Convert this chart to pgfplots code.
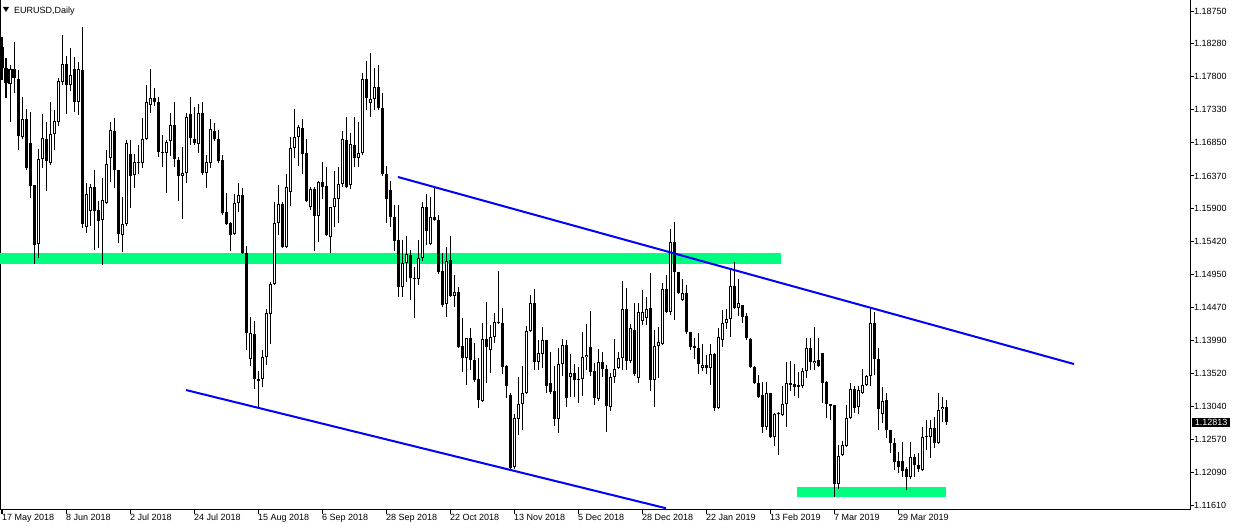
\documentclass[border=0pt]{standalone}
\usepackage{fontspec}
\setmainfont{Liberation Sans}
\usepackage{pgfplots}
\usepackage{pgfplotstable}
\pgfplotsset{compat=1.18}
\definecolor{sgreen}{RGB}{0,255,127}
\definecolor{tlblue}{RGB}{0,0,255}

\pgfplotstableread{
i o h l c
0 1.1823 1.1838 1.1776 1.1793
1 1.1793 1.1807 1.1750 1.1771
2 1.1770 1.1797 1.1715 1.1791
3 1.1791 1.1830 1.1757 1.1778
4 1.1777 1.1790 1.1674 1.1695
5 1.1693 1.1751 1.1690 1.1719
6 1.1719 1.1734 1.1646 1.1648
7 1.1685 1.1729 1.1605 1.1623
8 1.1624 1.1624 1.1510 1.1537
9 1.1539 1.1676 1.1519 1.1662
10 1.1662 1.1726 1.1649 1.1692
11 1.1690 1.1715 1.1615 1.1659
12 1.1656 1.1744 1.1653 1.1698
13 1.1698 1.1732 1.1674 1.1716
14 1.1715 1.1778 1.1709 1.1774
15 1.1773 1.1840 1.1768 1.1799
16 1.1799 1.1810 1.1726 1.1768
17 1.1768 1.1822 1.1760 1.1783
18 1.1791 1.1809 1.1729 1.1744
19 1.1744 1.1801 1.1725 1.1791
20 1.1790 1.1852 1.1562 1.1568
21 1.1563 1.1627 1.1555 1.1611
22 1.1586 1.1625 1.1565 1.1621
23 1.1621 1.1646 1.1530 1.1586
24 1.1588 1.1601 1.1533 1.1572
25 1.1573 1.1634 1.1509 1.1602
26 1.1598 1.1674 1.1596 1.1654
27 1.1663 1.1715 1.1628 1.1703
28 1.1702 1.1721 1.1620 1.1646
29 1.1646 1.1646 1.1540 1.1553
30 1.1552 1.1607 1.1527 1.1568
31 1.1568 1.1689 1.1565 1.1685
32 1.1669 1.1689 1.1591 1.1637
33 1.1638 1.1669 1.1620 1.1657
34 1.1657 1.1682 1.1640 1.1656
35 1.1656 1.1721 1.1649 1.1690
36 1.1690 1.1768 1.1689 1.1744
37 1.1739 1.1791 1.1728 1.1750
38 1.1750 1.1764 1.1738 1.1744
39 1.1744 1.1751 1.1664 1.1672
40 1.1672 1.1696 1.1650 1.1670
41 1.1670 1.1689 1.1612 1.1686
42 1.1687 1.1728 1.1666 1.1711
43 1.1711 1.1744 1.1650 1.1662
44 1.1660 1.1664 1.1601 1.1637
45 1.1637 1.1679 1.1575 1.1641
46 1.1641 1.1728 1.1627 1.1722
47 1.1726 1.1751 1.1682 1.1692
48 1.1690 1.1737 1.1682 1.1685
49 1.1683 1.1741 1.1670 1.1728
50 1.1728 1.1744 1.1638 1.1641
51 1.1641 1.1667 1.1620 1.1657
52 1.1656 1.1719 1.1649 1.1705
53 1.1702 1.1713 1.1687 1.1690
54 1.1690 1.1703 1.1656 1.1659
55 1.1660 1.1667 1.1581 1.1584
56 1.1585 1.1612 1.1566 1.1568
57 1.1569 1.1571 1.1529 1.1552
58 1.1553 1.1611 1.1552 1.1598
59 1.1598 1.1627 1.1585 1.1610
60 1.1610 1.1620 1.1524 1.1526
61 1.1526 1.1536 1.1386 1.1410
62 1.1373 1.1434 1.1363 1.1410
63 1.1409 1.1428 1.1330 1.1344
64 1.1344 1.1356 1.1302 1.1341
65 1.1344 1.1386 1.1333 1.1376
66 1.1376 1.1445 1.1364 1.1439
67 1.1438 1.1484 1.1395 1.1481
68 1.1481 1.1599 1.1480 1.1569
69 1.1569 1.1624 1.1552 1.1597
70 1.1597 1.1599 1.1533 1.1535
71 1.1535 1.1640 1.1533 1.1621
72 1.1614 1.1693 1.1594 1.1677
73 1.1677 1.1734 1.1663 1.1693
74 1.1693 1.1711 1.1651 1.1708
75 1.1706 1.1719 1.1640 1.1669
76 1.1670 1.1690 1.1599 1.1601
77 1.1592 1.1621 1.1588 1.1618
78 1.1618 1.1621 1.1529 1.1579
79 1.1579 1.1630 1.1542 1.1628
80 1.1628 1.1657 1.1604 1.1621
81 1.1623 1.1650 1.1550 1.1552
82 1.1549 1.1592 1.1526 1.1592
83 1.1592 1.1644 1.1563 1.1605
84 1.1604 1.1650 1.1569 1.1625
85 1.1625 1.1702 1.1621 1.1690
86 1.1689 1.1722 1.1620 1.1621
87 1.1624 1.1699 1.1618 1.1683
88 1.1682 1.1722 1.1650 1.1663
89 1.1663 1.1715 1.1650 1.1670
90 1.1670 1.1786 1.1667 1.1777
91 1.1777 1.1803 1.1732 1.1750
92 1.1742 1.1814 1.1722 1.1748
93 1.1748 1.1793 1.1732 1.1765
94 1.1765 1.1797 1.1732 1.1735
95 1.1735 1.1757 1.1637 1.1640
96 1.1640 1.1651 1.1569 1.1604
97 1.1617 1.1630 1.1563 1.1578
98 1.1578 1.1595 1.1529 1.1543
99 1.1545 1.1595 1.1462 1.1477
100 1.1477 1.1545 1.1462 1.1511
101 1.1511 1.1550 1.1484 1.1524
102 1.1523 1.1530 1.1458 1.1490
103 1.1490 1.1506 1.1432 1.1488
104 1.1488 1.1545 1.1480 1.1519
105 1.1519 1.1599 1.1514 1.1592
106 1.1592 1.1611 1.1537 1.1558
107 1.1539 1.1607 1.1537 1.1578
108 1.1578 1.1621 1.1572 1.1573
109 1.1573 1.1581 1.1496 1.1498
110 1.1500 1.1526 1.1448 1.1451
111 1.1452 1.1535 1.1434 1.1514
112 1.1516 1.1550 1.1462 1.1464
113 1.1464 1.1494 1.1448 1.1470
114 1.1470 1.1477 1.1389 1.1390
115 1.1392 1.1432 1.1354 1.1374
116 1.1374 1.1403 1.1335 1.1403
117 1.1403 1.1418 1.1357 1.1371
118 1.1371 1.1396 1.1340 1.1343
119 1.1344 1.1374 1.1302 1.1314
120 1.1312 1.1425 1.1311 1.1402
121 1.1402 1.1455 1.1338 1.1390
122 1.1386 1.1422 1.1353 1.1405
123 1.1405 1.1439 1.1396 1.1426
124 1.1426 1.1500 1.1423 1.1425
125 1.1425 1.1447 1.1351 1.1361
126 1.1363 1.1364 1.1317 1.1334
127 1.1321 1.1324 1.1213 1.1216
128 1.1217 1.1294 1.1214 1.1288
129 1.1286 1.1347 1.1263 1.1308
130 1.1308 1.1363 1.1270 1.1324
131 1.1324 1.1421 1.1322 1.1413
132 1.1413 1.1465 1.1412 1.1454
133 1.1454 1.1474 1.1357 1.1369
134 1.1369 1.1400 1.1357 1.1382
135 1.1380 1.1419 1.1360 1.1400
136 1.1400 1.1400 1.1324 1.1334
137 1.1338 1.1383 1.1322 1.1325
138 1.1327 1.1363 1.1276 1.1286
139 1.1286 1.1389 1.1266 1.1366
140 1.1366 1.1402 1.1348 1.1393
141 1.1393 1.1400 1.1304 1.1317
142 1.1347 1.1380 1.1318 1.1353
143 1.1353 1.1366 1.1318 1.1343
144 1.1343 1.1361 1.1309 1.1344
145 1.1344 1.1412 1.1320 1.1376
146 1.1376 1.1423 1.1357 1.1379
147 1.1390 1.1442 1.1348 1.1354
148 1.1356 1.1367 1.1307 1.1317
149 1.1315 1.1387 1.1312 1.1369
150 1.1369 1.1383 1.1347 1.1358
151 1.1358 1.1364 1.1268 1.1305
152 1.1304 1.1353 1.1298 1.1347
153 1.1347 1.1402 1.1338 1.1358
154 1.1360 1.1383 1.1358 1.1374
155 1.1374 1.1485 1.1357 1.1445
156 1.1445 1.1475 1.1357 1.1370
157 1.1370 1.1423 1.1367 1.1418
158 1.1415 1.1454 1.1348 1.1351
159 1.1345 1.1454 1.1338 1.1441
160 1.1428 1.1472 1.1422 1.1441
161 1.1432 1.1462 1.1422 1.1445
162 1.1447 1.1497 1.1327 1.1343
163 1.1343 1.1415 1.1304 1.1392
164 1.1392 1.1419 1.1345 1.1397
165 1.1395 1.1483 1.1393 1.1474
166 1.1474 1.1494 1.1439 1.1441
167 1.1441 1.1561 1.1436 1.1542
168 1.1542 1.1571 1.1429 1.1498
169 1.1498 1.1498 1.1467 1.1468
170 1.1458 1.1488 1.1457 1.1468
171 1.1468 1.1480 1.1409 1.1412
172 1.1412 1.1412 1.1386 1.1390
173 1.1392 1.1403 1.1373 1.1389
174 1.1389 1.1410 1.1351 1.1366
175 1.1360 1.1395 1.1356 1.1364
176 1.1364 1.1379 1.1351 1.1360
177 1.1360 1.1395 1.1335 1.1380
178 1.1380 1.1382 1.1298 1.1302
179 1.1302 1.1418 1.1301 1.1405
180 1.1400 1.1444 1.1390 1.1425
181 1.1425 1.1445 1.1416 1.1431
182 1.1431 1.1504 1.1405 1.1478
183 1.1478 1.1513 1.1445 1.1447
184 1.1447 1.1488 1.1435 1.1454
185 1.1451 1.1451 1.1425 1.1434
186 1.1435 1.1439 1.1400 1.1403
187 1.1402 1.1403 1.1360 1.1361
188 1.1361 1.1363 1.1337 1.1338
189 1.1338 1.1350 1.1317 1.1318
190 1.1321 1.1340 1.1266 1.1275
191 1.1275 1.1340 1.1270 1.1324
192 1.1324 1.1324 1.1259 1.1260
193 1.1260 1.1295 1.1247 1.1294
194 1.1295 1.1296 1.1234 1.1294
195 1.1292 1.1334 1.1291 1.1308
196 1.1308 1.1369 1.1275 1.1338
197 1.1338 1.1370 1.1327 1.1335
198 1.1337 1.1366 1.1320 1.1333
199 1.1335 1.1354 1.1317 1.1333
200 1.1334 1.1360 1.1331 1.1356
201 1.1356 1.1403 1.1345 1.1389
202 1.1389 1.1403 1.1357 1.1369
203 1.1367 1.1419 1.1357 1.1370
204 1.1371 1.1403 1.1361 1.1363
205 1.1382 1.1382 1.1309 1.1338
206 1.1340 1.1341 1.1288 1.1308
207 1.1308 1.1308 1.1285 1.1305
208 1.1307 1.1307 1.1174 1.1193
209 1.1193 1.1249 1.1185 1.1233
210 1.1234 1.1255 1.1233 1.1249
211 1.1247 1.1307 1.1246 1.1288
212 1.1288 1.1338 1.1286 1.1330
213 1.1330 1.1334 1.1295 1.1302
214 1.1304 1.1334 1.1294 1.1328
215 1.1324 1.1358 1.1322 1.1335
216 1.1335 1.1350 1.1334 1.1348
217 1.1348 1.1447 1.1334 1.1425
218 1.1425 1.1441 1.1350 1.1373
219 1.1373 1.1389 1.1270 1.1301
220 1.1294 1.1333 1.1281 1.1312
221 1.1314 1.1324 1.1259 1.1270
222 1.1270 1.1270 1.1237 1.1252
223 1.1252 1.1259 1.1213 1.1224
224 1.1226 1.1239 1.1208 1.1217
225 1.1226 1.1253 1.1203 1.1211
226 1.1214 1.1217 1.1184 1.1203
227 1.1203 1.1253 1.1200 1.1231
228 1.1231 1.1236 1.1203 1.1220
229 1.1220 1.1237 1.1210 1.1214
230 1.1213 1.1275 1.1211 1.1260
231 1.1260 1.1285 1.1242 1.1262
232 1.1260 1.1285 1.1230 1.1273
233 1.1273 1.1289 1.1244 1.1252
234 1.1252 1.1324 1.1250 1.1299
235 1.1301 1.1318 1.1282 1.1304
236 1.1304 1.1314 1.1278 1.12813
}\candles

\begin{document}
\begin{tikzpicture}
\useasboundingbox (0pt,0pt) rectangle (1238pt,529pt);
\begin{axis}[
  at={(0pt,19pt)}, anchor=south west,
  scale only axis, width=1190pt, height=510pt,
  xmin=-0.5, xmax=297, ymin=1.11550, ymax=1.18909,
  axis line style={black, line width=1pt},
  xtick={0,16,...,224},
  xticklabels={17 May 2018, 8 Jun 2018, 2 Jul 2018, 24 Jul 2018, 15 Aug 2018, 6 Sep 2018, 28 Sep 2018, 22 Oct 2018, 13 Nov 2018, 5 Dec 2018, 28 Dec 2018, 22 Jan 2019, 13 Feb 2019, 7 Mar 2019, 29 Mar 2019},
  ytick={1.18750,1.18280,1.17800,1.17330,1.16850,1.16370,1.15900,1.15420,1.14950,1.14470,1.13990,1.13520,1.13040,1.12570,1.12090,1.11610},
  yticklabels={1.18750,1.18280,1.17800,1.17330,1.16850,1.16370,1.15900,1.15420,1.14950,1.14470,1.13990,1.13520,1.13040,1.12570,1.12090,1.11610},
  xtick pos=bottom, ytick pos=right, yticklabel pos=right,
  tick align=outside, major tick length=4pt,
  tick style={black, line width=1pt},
  xticklabel style={anchor=north west, inner sep=0pt, font=\fontsize{9}{10}\selectfont},
  yticklabel style={anchor=west, inner sep=0pt, font=\fontsize{9}{10}\selectfont},
  clip=false,
]
% support / resistance zones
\addplot[fill=sgreen, draw=none, forget plot] coordinates {(-0.5,1.15258) (194.75,1.15258) (194.75,1.15100) (-0.5,1.15100)} -- cycle;
\addplot[fill=sgreen, draw=none, forget plot] coordinates {(198.75,1.11882) (236,1.11882) (236,1.11737) (198.75,1.11737)} -- cycle;
% wicks (high to low)
\addplot[quiver={u=0, v=\thisrow{l}-\thisrow{h}}, -, black, line width=1pt, mark=none, forget plot]
  table[x=i, y=h] {\candles};
% bodies (black, open to close)
\addplot[quiver={u=0, v={-max(abs(\thisrow{o}-\thisrow{c}),0.00014)}}, -, black, line width=3pt, mark=none, forget plot]
  table[x=i, y expr={max(\thisrow{o},\thisrow{c})}] {\candles};
% hollow interior of rising candles
\addplot[quiver={u=0, v={-max(\thisrow{c}-\thisrow{o}-0.000288,0)}}, -, white, line width=1pt, mark=none, forget plot]
  table[x=i, y expr={\thisrow{c}-0.000144}] {\candles};
% trend lines
\addplot[tlblue, line width=2pt, forget plot] coordinates {(99,1.16355) (268,1.13656)};
\addplot[tlblue, line width=2pt, forget plot] coordinates {(46,1.13281) (166,1.11575)};
% current price
\node[fill=black, text=white, anchor=west, inner xsep=3pt, inner ysep=1.5pt, font=\fontsize{9}{10}\selectfont] at (axis cs:297.4,1.12813) {1.12813};
\end{axis}
\fill[black] (3pt,522pt) -- (9pt,522pt) -- (6pt,517pt) -- cycle;
\node[anchor=base west, inner sep=0pt, font=\fontsize{9}{10}\selectfont] at (14pt,515pt) {EURUSD,Daily};
\end{tikzpicture}
\end{document}
